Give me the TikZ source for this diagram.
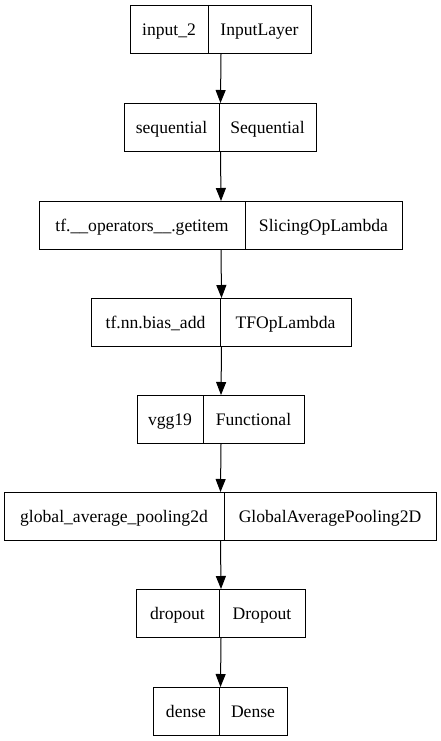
\documentclass[tikz,border=0pt]{standalone}
\usepackage{fontspec}
\setmainfont{Liberation Serif}
\usetikzlibrary{arrows.meta}
\tikzset{
  layer/.style={draw=black, line width=1pt, inner sep=0pt, minimum height=48pt, anchor=north west},
  lbl/.style={inner sep=0pt, text height=15pt, text depth=1.6pt, font=\fontsize{17.6}{20}\selectfont},
  divider/.style={draw=black, line width=1pt},
  conn/.style={draw=black, line width=1pt, -{Triangle[length=13pt,width=10pt]}}
}
\newcommand\layerbox[7]{%
  \node[layer, minimum width={(#4-#2)*1pt}] (#1) at (#2,#5) {};
  \node[lbl] (#1l) at ({(#2+#3)/2},{#5+24}) {#6};
  \node[lbl] (#1r) at ({(#3+#4)/2},{#5+24}) {#7};
  \draw[divider] (#3,#5) -- (#3,{#5+48});
}
\begin{document}
\begin{tikzpicture}[x=1pt,y=-1pt]
\useasboundingbox (0,0) rectangle (441,741);
\layerbox{b1}{130}{208}{311}{5}{input\_2}{InputLayer}
\layerbox{b2}{124}{219}{316}{103}{sequential}{Sequential}
\layerbox{b3}{39}{245}{402}{201}{tf.\_\_operators\_\_.getitem}{SlicingOpLambda}
\layerbox{b4}{91}{220}{351}{298}{tf.nn.bias\_add}{TFOpLambda}
\layerbox{b5}{137}{203}{304}{395}{vgg19}{Functional}
\layerbox{b6}{4}{224}{436}{492}{global\_average\_pooling2d}{GlobalAveragePooling2D}
\layerbox{b7}{136}{219}{305}{589}{dropout}{Dropout}
\layerbox{b8}{153}{219}{287}{687}{dense}{Dense}
\draw[conn] (b1.south) -- (b2.north);
\draw[conn] (b2.south) -- (b3.north);
\draw[conn] (b3.south) -- (b4.north);
\draw[conn] (b4.south) -- (b5.north);
\draw[conn] (b5.south) -- (b6.north);
\draw[conn] (b6.south) -- (b7.north);
\draw[conn] (b7.south) -- (b8.north);
\end{tikzpicture}
\end{document}
